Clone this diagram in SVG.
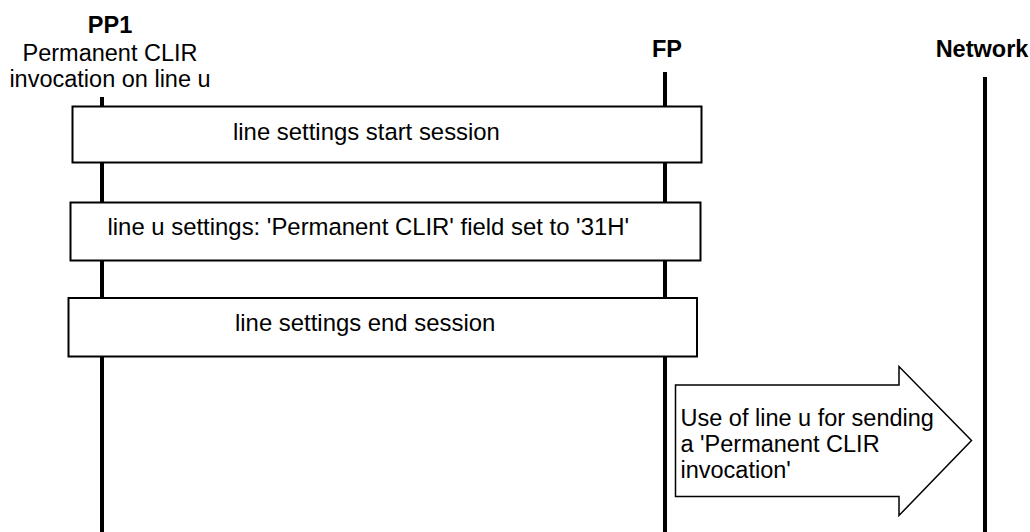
<svg xmlns="http://www.w3.org/2000/svg" width="1030" height="532" viewBox="0 0 1030 532">
  <style>
    text { font-family: "Liberation Sans", Arial, sans-serif; font-size: 23.5px; fill: #000; }
    .b { font-weight: bold; }
    .c { text-anchor: middle; }
    .bt { font-size: 23.9px; }
    .life { stroke: #000; stroke-width: 4; fill: none; }
    .box { fill: #fff; stroke: #000; stroke-width: 2; }
    .arrow { fill: #fff; stroke: #000; stroke-width: 1.5; }
  </style>
  <rect width="1030" height="532" fill="#fff"/>
  <g id="lifelines">
    <line class="life" x1="102" y1="97" x2="102" y2="532"/>
    <line class="life" x1="665" y1="72" x2="665" y2="532"/>
    <line class="life" x1="985" y1="77" x2="985" y2="532"/>
  </g>
  <g id="pp1">
    <text class="b c" x="110" y="33">PP1</text>
    <text class="c" x="110" y="60.5">Permanent CLIR</text>
    <text class="c" x="110" y="87">invocation on line u</text>
  </g>
  <g id="fp">
    <text class="b c" x="667" y="56.5">FP</text>
  </g>
  <g id="network">
    <text class="b c" x="982" y="56.5">Network</text>
  </g>
  <g id="box1">
    <rect class="box" x="72.5" y="106.5" width="629" height="56"/>
    <text class="bt" x="233" y="139.5">line settings start session</text>
  </g>
  <g id="box2">
    <rect class="box" x="70.5" y="202.5" width="630" height="58"/>
    <text class="bt" x="107.5" y="235">line u settings: 'Permanent CLIR' field set to '31H'</text>
  </g>
  <g id="box3">
    <rect class="box" x="68.5" y="298" width="628.5" height="58.5"/>
    <text class="bt" x="235" y="330.5">line settings end session</text>
  </g>
  <g id="connectors">
    <polygon class="arrow" points="675.5,385 899,385 899,366.5 971.5,440.5 899,515.5 899,496.5 675.5,496.5"/>
    <text x="680.5" y="426">Use of line u for sending</text>
    <text x="680.5" y="452">a 'Permanent CLIR</text>
    <text x="680.5" y="478">invocation'</text>
  </g>
</svg>
